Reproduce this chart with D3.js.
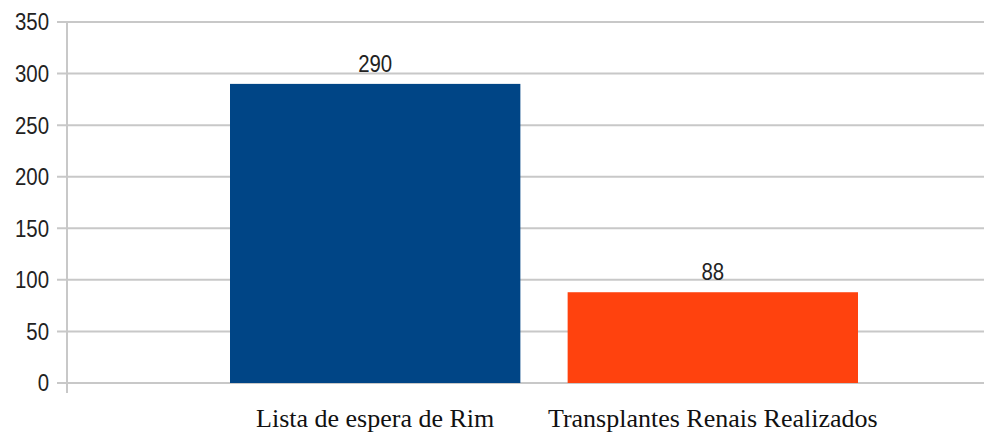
<!DOCTYPE html>
<html>
<head>
<meta charset="utf-8">
<script src="https://cdn.jsdelivr.net/npm/d3@7"></script>
<style>
  body { margin: 0; background: #fff; }
  svg { display: block; }
</style>
</head>
<body>
<div id="chart"></div>
<script>
const categories = ["Lista de espera de Rim", "Transplantes Renais Realizados"]
const values = [290, 88]
const colors = ["#004586", "#ff420e"]
const yTicks = [0, 50, 100, 150, 200, 250, 300, 350]

const W = 984, H = 434
const margin = ({top: 22, right: 0, bottom: 51, left: 67})

const svg = d3.select("#chart").append("svg")
    .attr("width", W)
    .attr("height", H)

const y = d3.scaleLinear()
    .domain([0, 350])
    .range([H - margin.bottom, margin.top])

const x = d3.scaleBand()
    .domain(categories)
    .range([230, 858])
    .paddingInner(0.14)
    .paddingOuter(0)

// gridlines + ticks
svg.append("g")
    .selectAll("line")
    .data(yTicks)
    .join("line")
      .attr("x1", margin.left - 10)
      .attr("x2", W)
      .attr("y1", d => y(d))
      .attr("y2", d => y(d))
      .attr("stroke", "#c8c8c8")
      .attr("stroke-width", 2)

// y axis line
svg.append("line")
    .attr("x1", margin.left)
    .attr("x2", margin.left)
    .attr("y1", y(350))
    .attr("y2", y(0) + 10)
    .attr("stroke", "#c8c8c8")
    .attr("stroke-width", 2)

// y tick labels
svg.append("g")
    .selectAll("text")
    .data(yTicks)
    .join("text")
      .attr("transform", d => `translate(49,${y(d)}) scale(0.85,1)`)
      .attr("dy", "0.35em")
      .attr("text-anchor", "end")
      .attr("font-family", "Liberation Sans, Arial, sans-serif")
      .attr("font-size", "24px")
      .attr("fill", "#222")
      .text(d => d)

// bars
svg.append("g")
    .selectAll("rect")
    .data(values)
    .join("rect")
      .attr("x", (d, i) => x(categories[i]))
      .attr("y", d => y(d))
      .attr("width", x.bandwidth())
      .attr("height", d => y(0) - y(d))
      .attr("fill", (d, i) => colors[i])

// value labels
svg.append("g")
    .selectAll("text")
    .data(values)
    .join("text")
      .attr("transform", (d, i) => `translate(${x(categories[i]) + x.bandwidth() / 2},${y(d) - 12}) scale(0.85,1)`)
      .attr("text-anchor", "middle")
      .attr("font-family", "Liberation Sans, Arial, sans-serif")
      .attr("font-size", "24px")
      .attr("fill", "#222")
      .text(d => d)

// category labels
svg.append("g")
    .selectAll("text")
    .data(categories)
    .join("text")
      .attr("x", d => x(d) + x.bandwidth() / 2)
      .attr("y", 427)
      .attr("text-anchor", "middle")
      .attr("font-family", "Liberation Serif, Times New Roman, serif")
      .attr("font-size", "26px")
      .attr("fill", "#111")
      .text(d => d)
</script>
</body>
</html>
